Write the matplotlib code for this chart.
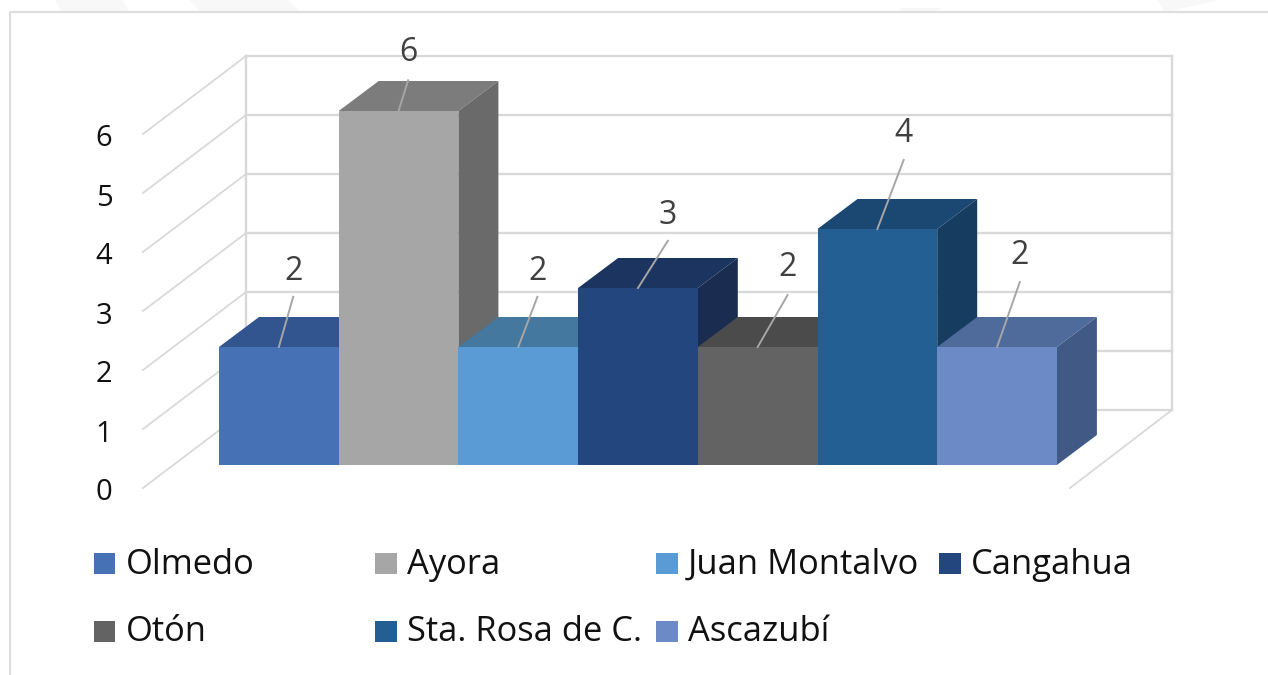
import matplotlib
matplotlib.use("Agg")
import matplotlib.pyplot as plt
from matplotlib.patches import Polygon, Rectangle

categories = ["Olmedo", "Ayora", "Juan Montalvo", "Cangahua", "Otón", "Sta. Rosa de C.", "Ascazubí"]
values = [2, 6, 2, 3, 2, 4, 2]
y_ticks = [0, 1, 2, 3, 4, 5, 6]
front_colors = ["#4771B5", "#A5A6A5", "#5B9BD5", "#23467E", "#636363", "#245F94", "#6C8BC6"]
top_colors = ["#33558F", "#7B7C7B", "#44789F", "#1B3460", "#4B4B4B", "#1B4872", "#4E6B9C"]
side_colors = ["#2F4E85", "#696A69", "#3E6F99", "#1A2D50", "#424242", "#163D60", "#415A85"]
label_targets = [(0.62, 0.85), (0.58, 0.52), (0.66, 0.85), (0.75, 0.8), (0.75, 0.88), (0.72, 1.17), (0.69, 1.1)]
label_gaps = [0.43, 0.47, 0.43, 0.43, 0.46, 0.45, 0.45]

W, H = 1268, 675
UX, UY = 119.7, 59.0
X0, Y0 = 219.0, 465.0
fig = plt.figure(figsize=(W / 100, H / 100), dpi=100)
ax = fig.add_axes([0, 0, 1, 1])
ax.set_xlim(-X0 / UX, (W - X0) / UX)
ax.set_ylim((Y0 - H) / UY, Y0 / UY)
ax.axis("off")
plt.rcParams["font.family"] = ["Open Sans", "DejaVu Sans"]

def px(x):
    return (x - X0) / UX

def py(y):
    return (Y0 - y) / UY

# faint watermark shapes and the frame
for shape in [[(55, 0), (122, 0), (130, 12), (62, 12)],
              [(190, 0), (288, 0), (300, 12), (200, 12)],
              [(1157, 0), (1220, 0), (1165, 12)],
              [(900, 8), (943, 8), (935, 12), (900, 12)]]:
    ax.add_patch(Polygon([(px(a), py(b)) for a, b in shape], fc="#F8F8F8", ec="none", zorder=0))
ax.plot([px(10), px(10), px(W)], [py(H), py(12), py(12)], color="#DEDEDE", lw=1.6, zorder=1)

# chart walls
wall_dx = px(246)
wall_r = px(1172)
back = 55 / UY + 0.0
front_x = px(143)
front_shift = -23 / UY
grid = "#D9D9D9"
for v in y_ticks:
    ax.plot([wall_dx, wall_r], [v + back, v + back], color=grid, lw=1.7, zorder=1)
    ax.plot([front_x, wall_dx], [v + front_shift, v + back], color=grid, lw=1.3, zorder=1)
ax.plot([wall_dx, wall_dx], [back, 6 + back], color=grid, lw=1.7, zorder=1)
ax.plot([wall_r, wall_r], [back, 6 + back], color=grid, lw=1.7, zorder=1)
ax.plot([px(1070), wall_r], [front_shift, back], color=grid, lw=1.3, zorder=1)

for v in y_ticks:
    ax.text(px(104), v + front_shift - 5 / UY, str(v), ha="center", va="center", fontsize=21, color="#111111", zorder=5)

# bars with depth faces
DX, DY = 40 / UX, 30 / UY
for i, v in enumerate(values):
    z = 2 + i
    ax.add_patch(Polygon([(i, v), (i + 1, v), (i + 1 + DX, v + DY), (i + DX, v + DY)], fc=top_colors[i], ec="none", zorder=z))
    ax.add_patch(Polygon([(i + 1, 0), (i + 1 + DX, DY), (i + 1 + DX, v + DY), (i + 1, v)], fc=side_colors[i], ec="none", zorder=z))
    ax.bar(i, v, width=1, align="edge", color=front_colors[i], zorder=z + 0.5)

# data labels and leader lines
for i, v in enumerate(values):
    tx, ty = label_targets[i]
    x_center = i + 0.5
    ax.plot([x_center, i + tx], [v, v + ty], color="#A6A6A6", lw=1.4, zorder=20)
    ax.text(i + tx, v + ty + label_gaps[i], str(v), ha="center", va="center", fontsize=23, color="#404040", zorder=21)

# legend
legend_x = [94, 375, 656, 939]
legend_y = [563.5, 631]
slots = [(0, 0), (1, 0), (2, 0), (3, 0), (0, 1), (1, 1), (2, 1)]
for name, color, (c, r) in zip(categories, front_colors, slots):
    ax.add_patch(Rectangle((px(legend_x[c]), py(legend_y[r] + 10.5)), 21.5 / UX, 21 / UY, fc=color, ec="none", zorder=5))
    ax.text(px(legend_x[c] + 32), py(legend_y[r] + 1), name, ha="left", va="center", fontsize=24.8, color="#111111", zorder=5)

fig.savefig("out.png", dpi=100, facecolor="white")
